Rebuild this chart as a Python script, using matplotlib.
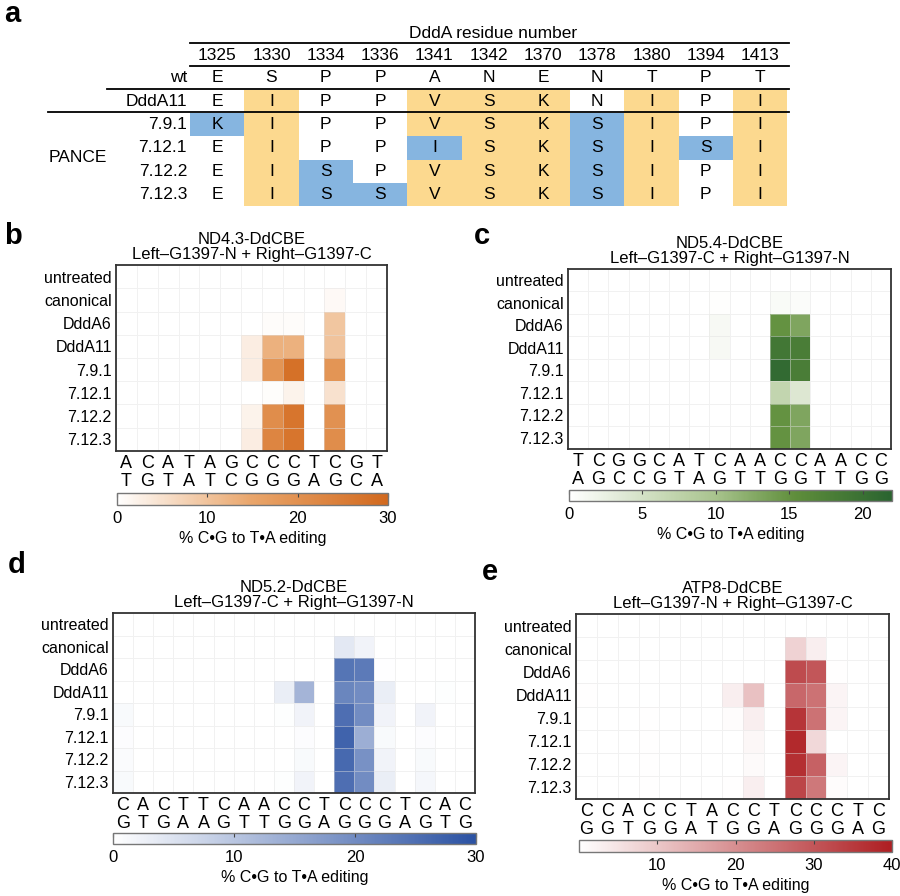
import matplotlib.pyplot as plt
import numpy as np
from matplotlib.colors import LinearSegmentedColormap
from matplotlib.patches import Rectangle

plt.rcParams['font.family'] = ['Liberation Sans', 'DejaVu Sans']

# ---- panel a data ----
residues = ['1325', '1330', '1334', '1336', '1341', '1342', '1370', '1378', '1380', '1394', '1413']
wt = ['E', 'S', 'P', 'P', 'A', 'N', 'E', 'N', 'T', 'P', 'T']
ddda11 = ['E', 'I', 'P', 'P', 'V', 'S', 'K', 'N', 'I', 'P', 'I']
pance_names = ['7.9.1', '7.12.1', '7.12.2', '7.12.3']
pance_seqs = [
    ['K', 'I', 'P', 'P', 'V', 'S', 'K', 'S', 'I', 'P', 'I'],
    ['E', 'I', 'P', 'P', 'I', 'S', 'K', 'S', 'I', 'S', 'I'],
    ['E', 'I', 'S', 'P', 'V', 'S', 'K', 'S', 'I', 'P', 'I'],
    ['E', 'I', 'S', 'S', 'V', 'S', 'K', 'S', 'I', 'P', 'I'],
]

# ---- heatmap data ----
samples = ['untreated', 'canonical', 'DddA6', 'DddA11', '7.9.1', '7.12.1', '7.12.2', '7.12.3']

b_top = list('ACATAGCCCTCGT')
b_bot = list('TGTATCGGGAGCA')
b_vals = np.array([
    [0, 0, 0, 0, 0, 0, 0, 0, 0, 0, 0, 0, 0],
    [0, 0, 0, 0, 0, 0, 0, 0, 0, 0, 1.0, 0, 0],
    [0, 0, 0, 0, 0, 0, 0, 0.5, 0.5, 0, 9.5, 0, 0],
    [0, 0, 0, 0, 0, 0, 3, 13, 13, 0, 10, 0, 0],
    [0, 0, 0, 0, 0, 0, 3, 19, 28, 0, 19, 0, 0],
    [0, 0, 0, 0, 0, 0, 0, 0.4, 2, 0, 5, 0, 0],
    [0, 0, 0, 0, 0, 0, 2, 21, 27, 0, 20, 0, 0],
    [0, 0, 0, 0, 0, 0, 3, 23, 27, 0, 21, 0, 0],
])

c_top = list('TCGGCATCAACCAACC')
c_bot = list('AGCCGTAGTTGGTTGG')
c_vals = np.array([
    [0, 0, 0, 0, 0, 0, 0, 0, 0, 0, 0, 0, 0, 0, 0, 0],
    [0, 0, 0, 0, 0, 0, 0, 0.2, 0, 0, 0.7, 0.5, 0, 0, 0, 0],
    [0, 0, 0, 0, 0, 0, 0, 1.0, 0, 0, 15, 13, 0, 0, 0, 0],
    [0, 0, 0, 0, 0, 0, 0, 1.0, 0, 0, 19, 18, 0, 0, 0, 0],
    [0, 0, 0, 0, 0, 0, 0, 0, 0, 0, 21, 18, 0, 0, 0, 0],
    [0, 0, 0, 0, 0, 0, 0, 0, 0, 0, 7, 4, 0, 0, 0, 0],
    [0, 0, 0, 0, 0, 0, 0, 0, 0, 0, 15, 13, 0, 0, 0, 0],
    [0, 0, 0, 0, 0, 0, 0, 0, 0, 0, 15, 13, 0, 0, 0, 0],
])

d_top = list('CACTTCAACCTCCCTCAC')
d_bot = list('GTGAAGTTGGAGGGAGTG')
d_vals = np.array([
    [0, 0, 0, 0, 0, 0, 0, 0, 0, 0, 0, 0, 0, 0, 0, 0, 0, 0],
    [0, 0, 0, 0, 0, 0, 0, 0, 0, 0, 0, 4, 2, 0, 0, 0, 0, 0],
    [0, 0, 0, 0, 0, 0, 0, 0, 0, 0, 0, 24, 23, 0.2, 0, 0, 0, 0],
    [0, 0, 0, 0, 0, 0, 0, 0, 3, 13, 0, 21, 20, 3, 0, 0, 0.3, 0],
    [1, 0, 0, 0, 0, 0, 0, 0, 0.3, 2, 0, 25, 20, 2, 0, 2, 0, 0],
    [0.5, 0, 0, 0, 0, 0, 0, 0, 0, 0.5, 0, 27, 14, 1, 0, 0.5, 0, 0],
    [0.8, 0, 0, 0, 0, 0, 0, 0, 0, 1, 0, 26, 19, 2, 0, 1, 0, 0],
    [1, 0, 0, 0, 0, 0, 0, 0, 0.3, 2, 0, 25, 20, 3, 0, 1.5, 0, 0],
])

e_top = list('CCACCTACCTCCCTC')
e_bot = list('GGTGGATGGAGGGAG')
e_vals = np.array([
    [0, 0, 0, 0, 0, 0, 0, 0, 0, 0, 0, 0, 0, 0, 0],
    [0, 0, 0, 0, 0, 0, 0, 0, 0, 0, 8, 3, 0, 0, 0],
    [0, 0, 0, 0, 0, 0, 0, 0, 0, 0, 32, 30, 0.3, 0, 0],
    [0.3, 0, 0, 0, 0, 0, 0, 3, 11, 0, 27, 25, 2, 0, 0],
    [0, 0, 0, 0.3, 0, 0, 0, 0.5, 3, 0, 36, 25, 2, 0, 0],
    [0, 0, 0, 0.3, 0, 0, 0, 0, 1.5, 0, 38, 7, 0, 0, 0],
    [0, 0, 0, 0.3, 0, 0, 0, 0, 1, 0, 37, 28, 2, 0, 0],
    [0, 0, 0, 0.3, 0, 0, 0, 0.3, 3, 0, 33, 24, 0.5, 0, 0],
])

W, H = 900, 896
fig = plt.figure(figsize=(W / 100, H / 100), dpi=100)


def px_axes(x0, y0, x1, y1):
    return fig.add_axes([x0 / W, 1 - y1 / H, (x1 - x0) / W, (y1 - y0) / H])


# ---------------- panel a: table ----------------
ta = fig.add_axes([0, 0, 1, 1])
ta.set_xlim(0, W)
ta.set_ylim(H, 0)
ta.axis('off')

orange = '#FCD98F'
blue = '#86B5E0'
col_x0, col_w, row_h = 190, 54.3, 23.3
tfs = 12.5
ta.text(493, 33, 'DddA residue number', ha='center', va='center', fontsize=tfs)
line_end = col_x0 + col_w * len(residues) + 2
ta.plot([col_x0, line_end], [43, 43], color='black', lw=1.3)
ta.plot([col_x0, line_end], [66, 66], color='black', lw=1.3)
ta.plot([107, line_end], [89.5, 89.5], color='black', lw=1.3)
ta.plot([48, line_end], [112.5, 112.5], color='black', lw=1.3)

for j, r in enumerate(residues):
    cx = col_x0 + col_w * (j + 0.5)
    ta.text(cx, 55, r, ha='center', va='center', fontsize=tfs)
    ta.text(cx, 78, wt[j], ha='center', va='center', fontsize=tfs)

ta.text(187, 78, 'wt', ha='right', va='center', fontsize=tfs)

rows = [('DddA11', ddda11)] + list(zip(pance_names, pance_seqs))
row_tops = [90] + [113 + row_h * i for i in range(4)]
for i, (name, seq) in enumerate(rows):
    top = row_tops[i]
    cy = top + row_h / 2
    ta.text(187, cy, name, ha='right', va='center', fontsize=tfs)
    for j, aa in enumerate(seq):
        x = col_x0 + col_w * j
        if i > 0 and aa != ddda11[j]:
            color = blue
        elif aa != wt[j]:
            color = orange
        else:
            color = None
        if color:
            ta.add_patch(Rectangle((x, top), col_w, row_h, facecolor=color, edgecolor='none', zorder=0))
        ta.text(x + col_w / 2, cy, aa, ha='center', va='center', fontsize=tfs)
ta.text(78, 158, 'PANCE', ha='center', va='center', fontsize=tfs)

# panel letters
for lab, x, y in [('a', 4, 14), ('b', 4, 236), ('c', 474, 236), ('d', 8, 565), ('e', 482, 572)]:
    ta.text(x, y, lab, ha='left', va='center', fontsize=21, fontweight='bold')


# ---------------- heatmaps ----------------
def heatmap(box, cbox, vals, top, bot, vmax, cmap, title, cticks):
    ax = px_axes(*box)
    mesh = ax.pcolormesh(vals, cmap=cmap, vmin=0, vmax=vmax,
                         edgecolor=(0.88, 0.88, 0.88, 0.45), linewidth=0.6)
    ax.set_xlim(0, vals.shape[1])
    ax.set_ylim(vals.shape[0], 0)
    ax.set_yticks(np.arange(len(samples)) + 0.5)
    ax.set_yticklabels(samples, fontsize=11.5)
    ax.set_xticks(np.arange(len(top)) + 0.5)
    ax.set_xticklabels([t + '\n' + b for t, b in zip(top, bot)], fontsize=13, linespacing=1.05)
    ax.tick_params(length=0, pad=3)
    for s in ax.spines.values():
        s.set_color('#333333')
        s.set_linewidth(1.3)
    ax.set_title(title, fontsize=12, linespacing=1.0, pad=4)

    cax = px_axes(*cbox)
    cb = fig.colorbar(mesh, cax=cax, orientation='horizontal')
    cb.set_ticks(cticks)
    cb.outline.set_edgecolor('#777777')
    cb.outline.set_linewidth(1.0)
    cax.tick_params(labelsize=12, length=3, direction='in', top=True, bottom=False,
                    color='#444444', pad=4)
    cax.xaxis.set_ticks_position('top')
    cax.xaxis.set_label_position('bottom')
    cax.tick_params(labelbottom=True, labeltop=False)
    cb.set_label('% C\u2022G to T\u2022A editing', fontsize=11.5, labelpad=4)
    return ax


cm_b = LinearSegmentedColormap.from_list('b', ['#FFFFFF', '#E9A56A', '#D2691E'])
cm_c = LinearSegmentedColormap.from_list('c', [(0, '#FFFFFF'), (0.45, '#A9C48E'), (0.7, '#5F8E3B'), (1, '#2A6430')])
cm_d = LinearSegmentedColormap.from_list('d', ['#FFFFFF', '#2B52A3'])
cm_e = LinearSegmentedColormap.from_list('e', ['#FFFFFF', '#AE1E22'])

heatmap((116, 265, 387, 451), (117, 493, 388, 505), b_vals, b_top, b_bot, 30, cm_b,
        'ND4.3-DdCBE\nLeft\u2013G1397-N + Right\u2013G1397-C', [0, 10, 20, 30])
heatmap((568, 269, 891, 449), (569, 490, 892, 501), c_vals, c_top, c_bot, 22, cm_c,
        'ND5.4-DdCBE\nLeft\u2013G1397-C + Right\u2013G1397-N', [0, 5, 10, 15, 20])
heatmap((113, 613, 475, 793), (113, 833, 476, 844), d_vals, d_top, d_bot, 30, cm_d,
        'ND5.2-DdCBE\nLeft\u2013G1397-C + Right\u2013G1397-N', [0, 10, 20, 30])
heatmap((576, 614, 889, 799), (579, 840, 892, 852), e_vals, e_top, e_bot, 40, cm_e,
        'ATP8-DdCBE\nLeft\u2013G1397-N + Right\u2013G1397-C', [10, 20, 30, 40])

fig.savefig('out.png', dpi=100)
